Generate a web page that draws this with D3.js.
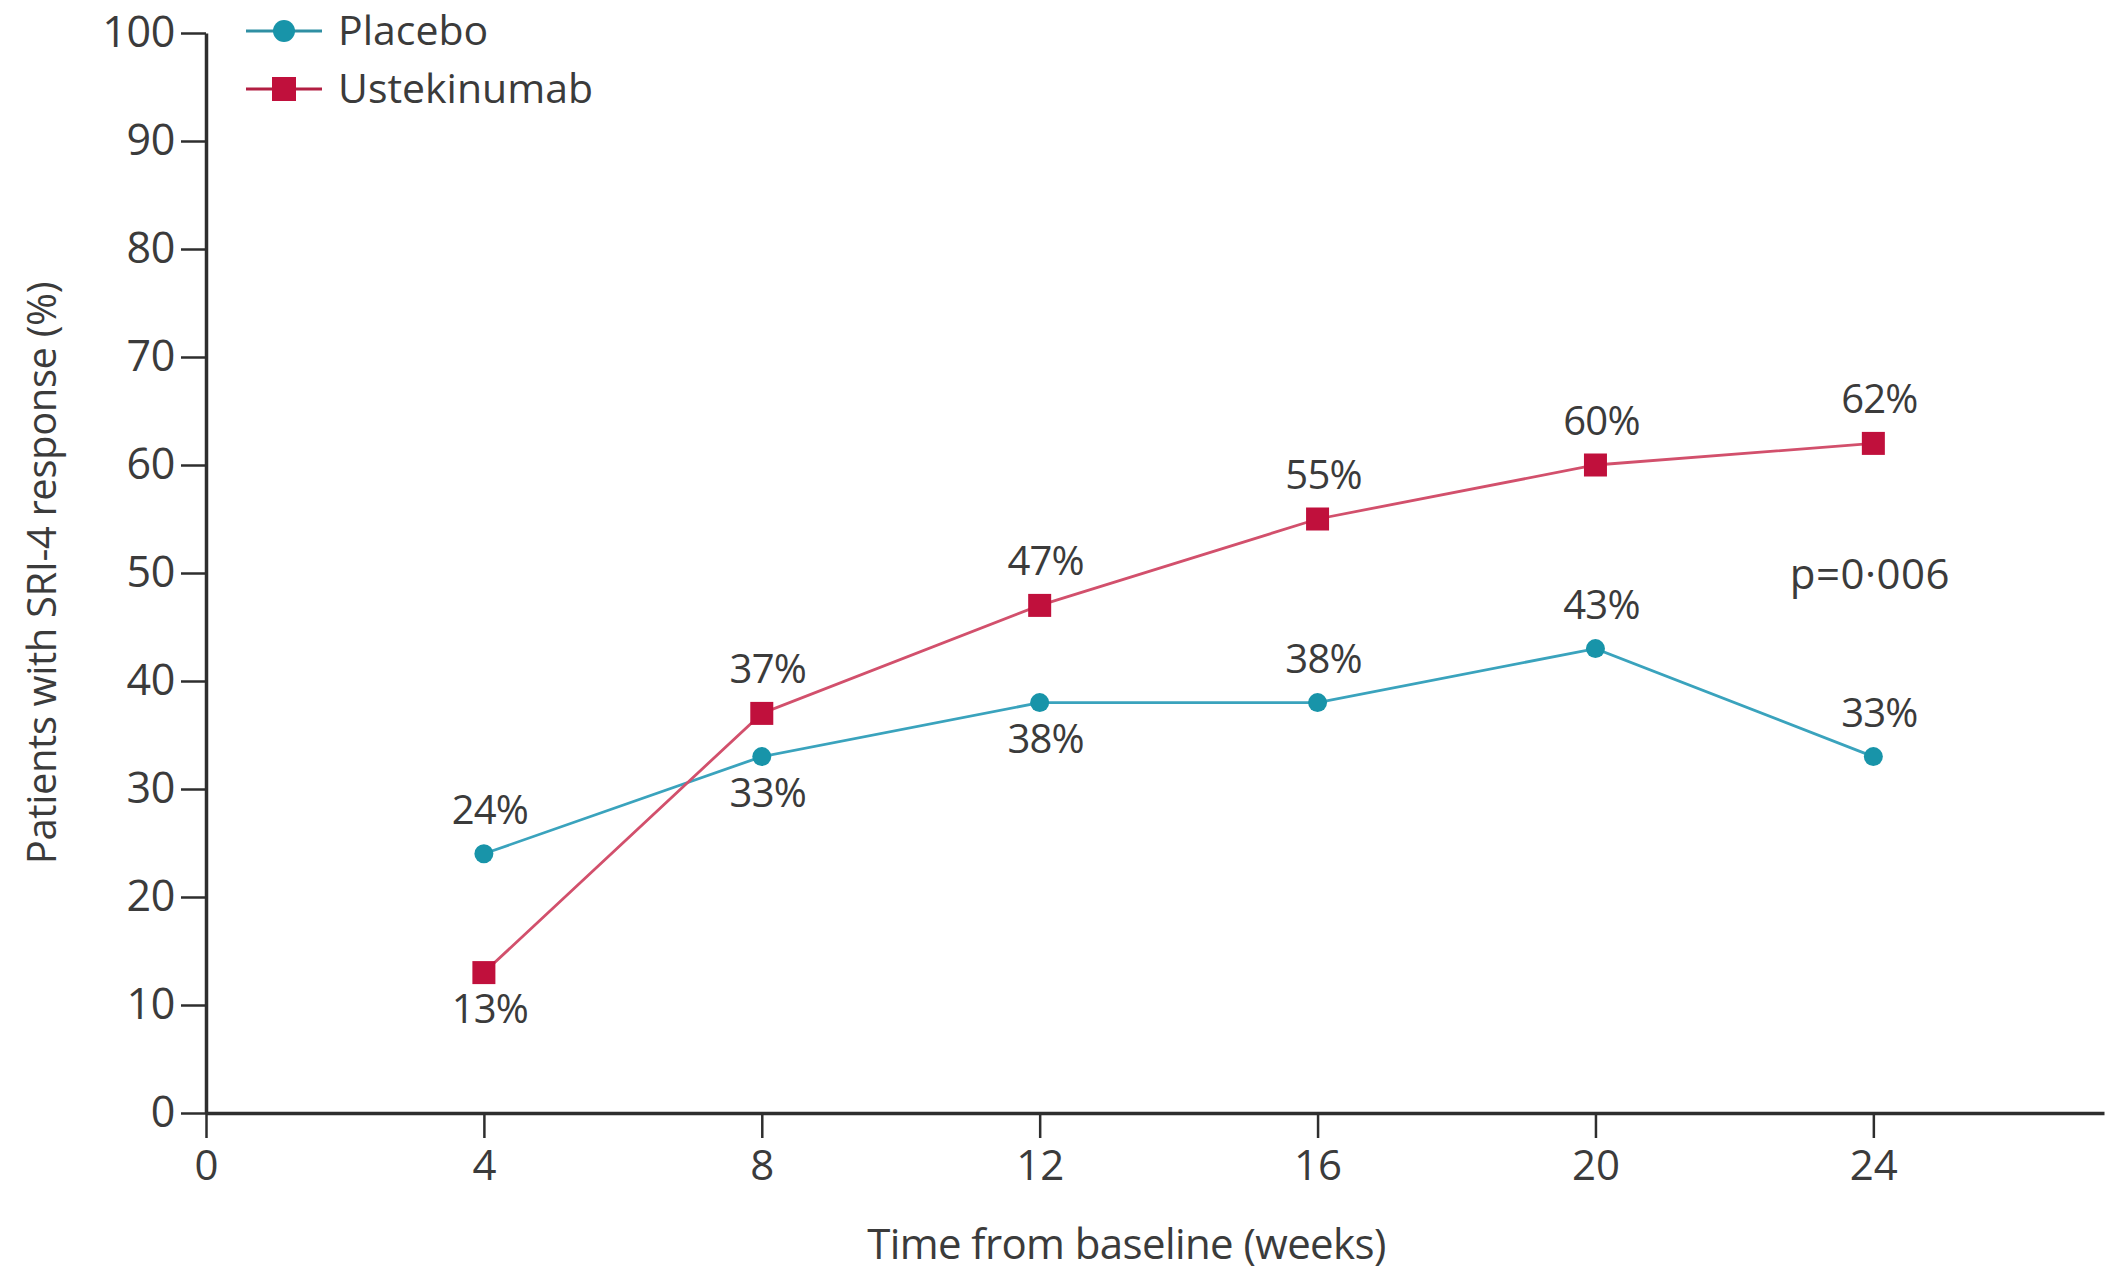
<!DOCTYPE html>
<html>
<head>
<meta charset="utf-8">
<script src="https://cdn.jsdelivr.net/npm/d3@7"></script>
<style>
  html, body { margin: 0; padding: 0; background: #fff; }
  svg { display: block; }
  text { font-family: "Open Sans", "DejaVu Sans", sans-serif; fill: #3b3b3b; }
</style>
</head>
<body>
<svg id="chart" width="2105" height="1278"></svg>
<script>
// Visit weeks and response rates (%) per arm
const weeks = [4, 8, 12, 16, 20, 24];
const placebo = [24, 33, 38, 38, 43, 33];
const ustekinumab = [13, 37, 47, 55, 60, 62];
// Where each value label sits relative to its point
const placeboLabelSide = ["above", "below", "below", "above", "above", "above"];
const ustekinumabLabelSide = ["below", "above", "above", "above", "above", "above"];
const xTicks = [0, 4, 8, 12, 16, 20, 24];
const yTicks = [0, 10, 20, 30, 40, 50, 60, 70, 80, 90, 100];
const seriesNames = ["Placebo", "Ustekinumab"];
const pValueText = "p=0·006";

const W = 2105, H = 1278;
const svg = d3.select("#chart");

const x = d3.scaleLinear().domain([0, 27.32]).range([206, 2104]);
const y = d3.scaleLinear().domain([0, 100]).range([1113, 33]);

const axisColor = "#2e2e2e";
const placeboLine = "#3aa3bd", placeboDot = "#1894a9";
const ustLine = "#d2506c", ustDot = "#c0103c";

// Axes
const yAxis = svg.append("g")
  .attr("transform", `translate(${x(0)},0)`)
  .call(d3.axisLeft(y).tickValues(yTicks).tickSize(25).tickSizeOuter(0).tickPadding(6));
const xAxis = svg.append("g")
  .attr("transform", `translate(0,${y(0)})`)
  .call(d3.axisBottom(x).tickValues(xTicks).tickSize(25).tickSizeOuter(0).tickPadding(12));

[yAxis, xAxis].forEach(g => {
  g.select(".domain").attr("stroke", axisColor).attr("stroke-width", 3.5);
  g.selectAll(".tick line").attr("stroke", axisColor).attr("stroke-width", 2.5);
  g.selectAll(".tick text")
    .style("font-family", "'Open Sans', sans-serif")
    .attr("fill", "#3b3b3b");
});
yAxis.selectAll(".tick text").attr("font-size", 43).attr("letter-spacing", -0.3);
xAxis.selectAll(".tick text").attr("font-size", 42);

// Axis titles
svg.append("text")
  .attr("x", x(13.25)).attr("y", 1259)
  .attr("text-anchor", "middle")
  .attr("font-size", 42)
  .attr("letter-spacing", -0.6)
  .text("Time from baseline (weeks)");

svg.append("text")
  .attr("transform", `translate(56,${y(50)}) rotate(-90)`)
  .attr("text-anchor", "middle")
  .attr("font-size", 40)
  .attr("letter-spacing", -0.4)
  .text("Patients with SRI-4 response (%)");

// Lines
const line = d3.line().x(d => x(d[0])).y(d => y(d[1]));
const placeboPts = weeks.map((w, i) => [w, placebo[i]]);
const ustPts = weeks.map((w, i) => [w, ustekinumab[i]]);

svg.append("path").datum(placeboPts).attr("d", line)
  .attr("fill", "none").attr("stroke", placeboLine).attr("stroke-width", 2.8);
svg.append("path").datum(ustPts).attr("d", line)
  .attr("fill", "none").attr("stroke", ustLine).attr("stroke-width", 2.8);

// Markers
svg.selectAll("circle.placebo").data(placeboPts).enter().append("circle")
  .attr("class", "placebo")
  .attr("cx", d => x(d[0])).attr("cy", d => y(d[1])).attr("r", 9.5)
  .attr("fill", placeboDot);

const sq = 23;
svg.selectAll("rect.ust").data(ustPts).enter().append("rect")
  .attr("class", "ust")
  .attr("x", d => x(d[0]) - sq / 2).attr("y", d => y(d[1]) - sq / 2)
  .attr("width", sq).attr("height", sq)
  .attr("fill", ustDot);

// Value labels
function addLabels(pts, sides) {
  svg.selectAll(null).data(pts).enter().append("text")
    .attr("x", d => x(d[0]) + 6)
    .attr("y", (d, i) => y(d[1]) + (sides[i] === "above" ? -30 : 50))
    .attr("text-anchor", "middle")
    .attr("font-size", 40)
    .attr("letter-spacing", -0.8)
    .text(d => d[1] + "%");
}
addLabels(placeboPts, placeboLabelSide);
addLabels(ustPts, ustekinumabLabelSide);

// p value
svg.append("text")
  .attr("x", x(23.95)).attr("y", y(50) + 16)
  .attr("text-anchor", "middle")
  .attr("font-size", 42)
  .attr("letter-spacing", 0.5)
  .text(pValueText);

// Legend
const legend = svg.append("g");
const legendRows = [
  { name: seriesNames[0], dot: placeboDot, lineColor: "#2f8fa3", shape: "circle", yPos: 31 },
  { name: seriesNames[1], dot: ustDot, lineColor: "#b21e42", shape: "square", yPos: 89 }
];
legendRows.forEach(r => {
  legend.append("line")
    .attr("x1", 246).attr("x2", 322).attr("y1", r.yPos).attr("y2", r.yPos)
    .attr("stroke", r.lineColor).attr("stroke-width", 2.8);
  if (r.shape === "circle") {
    legend.append("circle").attr("cx", 284).attr("cy", r.yPos).attr("r", 11).attr("fill", r.dot);
  } else {
    legend.append("rect").attr("x", 284 - 12).attr("y", r.yPos - 12)
      .attr("width", 24).attr("height", 24).attr("fill", r.dot);
  }
  legend.append("text")
    .attr("x", 338).attr("y", r.yPos + 14)
    .attr("font-size", 41)
    .text(r.name);
});
</script>
</body>
</html>
